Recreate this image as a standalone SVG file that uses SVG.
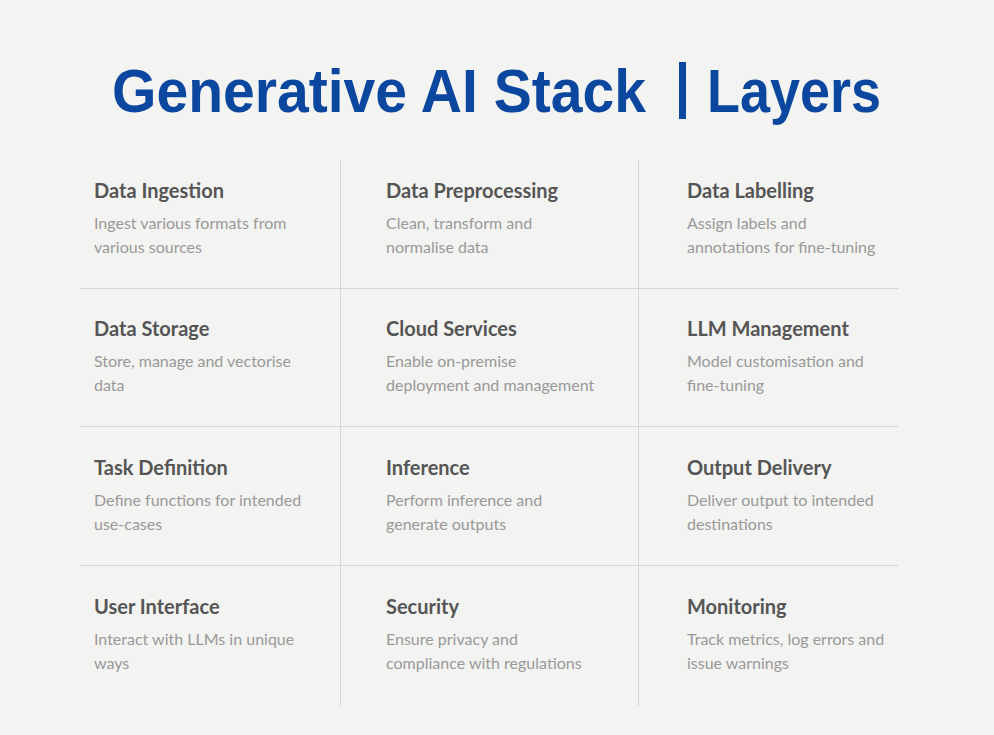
<svg xmlns="http://www.w3.org/2000/svg" width="994" height="735" viewBox="0 0 994 735">
<style>
.bg{fill:#f3f3f1}
.title{font-family:"Liberation Sans",Arial,sans-serif;font-weight:bold;font-size:61px;fill:#0b479e}
.h{font-family:Lato,"Liberation Sans",sans-serif;font-weight:bold;font-size:20px;fill:#555555}
.d{font-family:Lato,"Liberation Sans",sans-serif;font-size:16px;fill:#999999}
.grid line{stroke:#d6d6d4;stroke-width:1}
</style>
<rect class="bg" width="994" height="735"/>
<g id="title">
<text class="title" x="112" y="112" textLength="534" lengthAdjust="spacingAndGlyphs">Generative AI Stack</text>
<rect x="679" y="62" width="7" height="57" fill="#0b479e"/>
<text class="title" x="707" y="112" textLength="174" lengthAdjust="spacingAndGlyphs">Layers</text>
</g>
<g id="connectors" class="grid">
<line x1="340.5" y1="160" x2="340.5" y2="706"/>
<line x1="638.5" y1="160" x2="638.5" y2="706"/>
<line x1="80" y1="288.5" x2="898" y2="288.5"/>
<line x1="80" y1="426.5" x2="898" y2="426.5"/>
<line x1="80" y1="565.5" x2="898" y2="565.5"/>
</g>
<g id="data-ingestion"><text class="h" x="94" y="198">Data Ingestion</text><text class="d" x="94" y="229">Ingest various formats from</text><text class="d" x="94" y="253">various sources</text></g>
<g id="data-preprocessing"><text class="h" x="386" y="198">Data Preprocessing</text><text class="d" x="386" y="229">Clean, transform and</text><text class="d" x="386" y="253">normalise data</text></g>
<g id="data-labelling"><text class="h" x="687" y="198">Data Labelling</text><text class="d" x="687" y="229">Assign labels and</text><text class="d" x="687" y="253">annotations for fine-tuning</text></g>
<g id="data-storage"><text class="h" x="94" y="336">Data Storage</text><text class="d" x="94" y="367">Store, manage and vectorise</text><text class="d" x="94" y="391">data</text></g>
<g id="cloud-services"><text class="h" x="386" y="336">Cloud Services</text><text class="d" x="386" y="367">Enable on-premise</text><text class="d" x="386" y="391">deployment and management</text></g>
<g id="llm-management"><text class="h" x="687" y="336">LLM Management</text><text class="d" x="687" y="367">Model customisation and</text><text class="d" x="687" y="391">fine-tuning</text></g>
<g id="task-definition"><text class="h" x="94" y="475">Task Definition</text><text class="d" x="94" y="506">Define functions for intended</text><text class="d" x="94" y="530">use-cases</text></g>
<g id="inference"><text class="h" x="386" y="475">Inference</text><text class="d" x="386" y="506">Perform inference and</text><text class="d" x="386" y="530">generate outputs</text></g>
<g id="output-delivery"><text class="h" x="687" y="475">Output Delivery</text><text class="d" x="687" y="506">Deliver output to intended</text><text class="d" x="687" y="530">destinations</text></g>
<g id="user-interface"><text class="h" x="94" y="614">User Interface</text><text class="d" x="94" y="645">Interact with LLMs in unique</text><text class="d" x="94" y="669">ways</text></g>
<g id="security"><text class="h" x="386" y="614">Security</text><text class="d" x="386" y="645">Ensure privacy and</text><text class="d" x="386" y="669">compliance with regulations</text></g>
<g id="monitoring"><text class="h" x="687" y="614">Monitoring</text><text class="d" x="687" y="645">Track metrics, log errors and</text><text class="d" x="687" y="669">issue warnings</text></g>
</svg>
